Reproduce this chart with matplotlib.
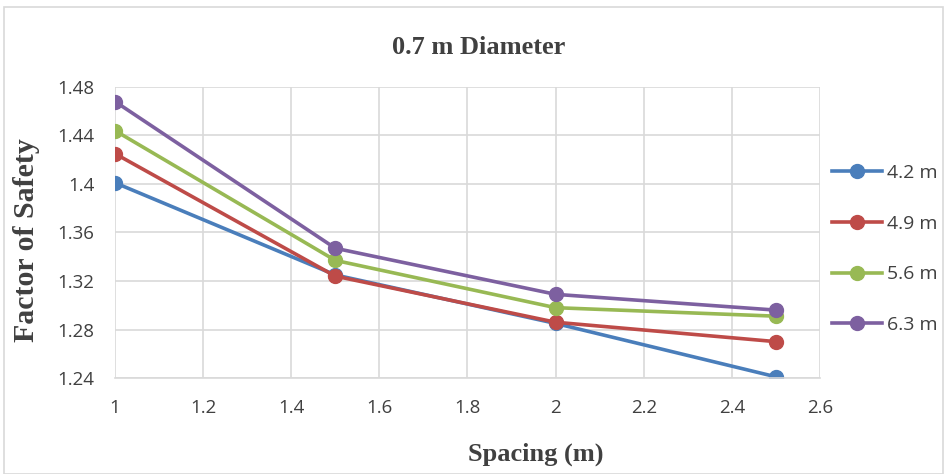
import matplotlib.pyplot as plt
from matplotlib.patches import Rectangle

spacing = [1.0, 1.5, 2.0, 2.5]
fs_42 = [1.401, 1.325, 1.285, 1.241]
fs_49 = [1.425, 1.324, 1.286, 1.270]
fs_56 = [1.444, 1.337, 1.298, 1.291]
fs_63 = [1.468, 1.347, 1.309, 1.296]
labels = ['4.2 m', '4.9 m', '5.6 m', '6.3 m']
colors = ['#4A7EBB', '#BE4B48', '#98B954', '#7D60A0']

fig = plt.figure(figsize=(9.45, 4.74), dpi=100)
ax = fig.add_axes([0.1217, 0.2025, 0.746, 0.614])

for ys, lab, c in zip([fs_42, fs_49, fs_56, fs_63], labels, colors):
    ax.plot(spacing, ys, '-o', color=c, lw=2.6, ms=10, label=lab)

ax.set_xlim(1, 2.6)
ax.set_ylim(1.24, 1.48)
ax.set_xticks([1, 1.2, 1.4, 1.6, 1.8, 2, 2.2, 2.4, 2.6])
ax.set_xticklabels(['1', '1.2', '1.4', '1.6', '1.8', '2', '2.2', '2.4', '2.6'])
ax.set_yticks([1.24, 1.28, 1.32, 1.36, 1.4, 1.44, 1.48])
ax.set_yticklabels(['1.24', '1.28', '1.32', '1.36', '1.4', '1.44', '1.48'])
ax.grid(True, color='#D9D9D9', lw=1.2)
ax.set_axisbelow(True)
for s in ['top', 'right', 'left']:
    ax.spines[s].set_visible(False)
ax.spines['bottom'].set_color('#D9D9D9')
ax.spines['bottom'].set_linewidth(1.2)
ax.tick_params(length=0, labelsize=13.5, colors='#404040', pad=15)
ax.tick_params(axis='y', pad=15)
for t in ax.get_xticklabels() + ax.get_yticklabels():
    t.set_fontfamily('Open Sans')

ax.set_title('0.7 m Diameter', family='Liberation Serif', weight='bold',
             fontsize=19, color='#404040', pad=24, x=0.516)
ax.set_xlabel('Spacing (m)', family='Liberation Serif', weight='bold',
              fontsize=19, color='#404040')
ax.xaxis.set_label_coords(0.597, -0.223)
ax.set_ylabel('Factor of Safety', family='Liberation Serif', weight='bold',
              fontsize=21.5, color='#404040')
ax.yaxis.set_label_coords(-0.106, 0.474)

leg = ax.legend(loc='center left', bbox_to_anchor=(1.0, 0.443), frameon=False,
                prop={'family': 'Open Sans', 'size': 14}, labelcolor='#404040',
                labelspacing=1.68, handlelength=2.6, handletextpad=0.25,
                borderaxespad=0.2)

fig.patches.append(Rectangle((0.004, 0.0), 0.994, 0.985, transform=fig.transFigure,
                             fill=False, edgecolor='#D9D9D9', lw=1.2))

plt.savefig('out.png', dpi=100)
